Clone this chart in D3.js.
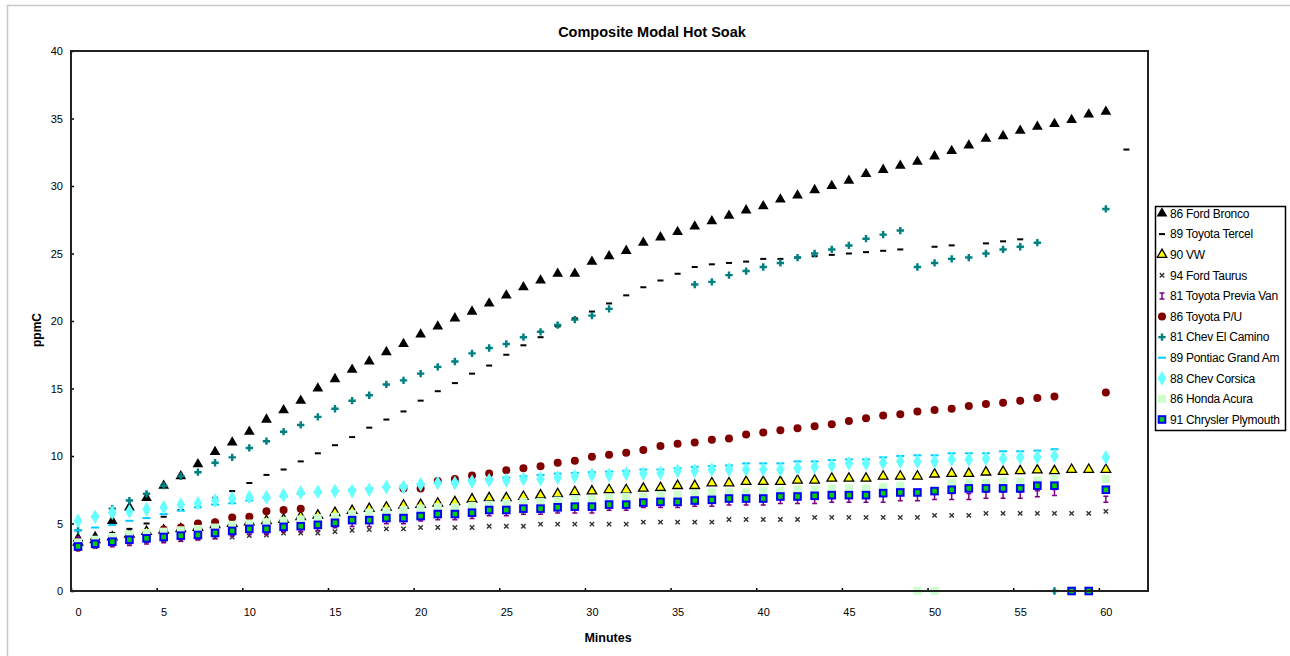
<!DOCTYPE html>
<html>
<head>
<meta charset="utf-8">
<script src="https://cdn.jsdelivr.net/npm/d3@7"></script>
<style>
  body { margin: 0; background: #fff; }
  svg { display: block; font-family: "Liberation Sans", Arial, sans-serif; }
</style>
</head>
<body>
<svg id="chart" width="1290" height="656"></svg>
<script>
// values, one per minute (null = no point drawn)
const _ = null;
const minutes = d3.range(0, 61);
const xTicks = d3.range(0, 61, 5);
const yTicks = d3.range(0, 41, 5);

const bronco = [
  3.9, 4.0, 5.2, 6.2, 6.9, 7.8, 8.5, 9.4, 10.3, 11.0,
  11.8, 12.7, 13.4, 14.1, 15.0, 15.7, 16.4, 17.0, 17.7, 18.3,
  19.0, 19.6, 20.2, 20.7, 21.3, 21.9, 22.5, 23.0, 23.5, 23.5,
  24.4, 24.8, 25.2, 25.8, 26.2, 26.6, 27.0, 27.4, 27.8, 28.2,
  28.5, 29.0, 29.3, 29.7, 30.0, 30.4, 30.9, 31.2, 31.5, 31.8,
  32.2, 32.6, 33.0, 33.5, 33.7, 34.1, 34.4, 34.6, 34.9, 35.3, 35.5];
const tercel = [
  3.6, 3.9, 4.3, 4.6, 5.0, 5.5, 6.0, 6.4, 6.9, 7.4,
  8.0, 8.6, 9.0, 9.6, 10.2, 10.8, 11.4, 12.1, 12.7, 13.3,
  14.1, 14.8, 15.4, 16.1, 16.7, 17.5, 18.2, 18.8, 19.6, 20.2,
  20.7, 21.3, 21.9, 22.5, 23.0, 23.5, 24.0, 24.2, 24.3, 24.4,
  24.6, 24.6, 24.7, 24.8, 24.9, 25.0, 25.1, 25.2, 25.3, _,
  25.5, 25.6, _, 25.75, 25.9, 26.05, _, _, _, _, _];
const tercelLate = [[61.2, 32.7]];
const vw = [
  3.6, 3.8, 4.0, 4.2, 4.4, 4.5, 4.6, 4.7, 4.9, 5.0,
  5.1, 5.2, 5.3, 5.5, 5.6, 5.8, 5.95, 6.1, 6.2, 6.35,
  6.4, 6.5, 6.6, 6.8, 6.9, 6.9, 7.0, 7.1, 7.2, 7.35,
  7.4, 7.5, 7.5, 7.6, 7.65, 7.8, 7.8, 8.0, 8.0, 8.1,
  8.1, 8.1, 8.2, 8.2, 8.35, 8.35, 8.35, 8.5, 8.5, 8.5,
  8.65, 8.7, 8.7, 8.8, 8.85, 8.9, 8.95, 8.9, 9.0, 9.0, 9.0];
const taurus = [
  3.3, 3.3, 3.5, 3.6, 3.7, 3.8, 3.8, 3.9, 4.0, 4.0,
  4.1, 4.15, 4.3, 4.3, 4.3, 4.4, 4.5, 4.55, 4.6, 4.6,
  4.7, 4.7, 4.7, 4.7, 4.8, 4.8, 4.8, 4.95, 4.95, 4.95,
  4.95, 4.95, 4.95, 5.1, 5.1, 5.1, 5.1, 5.1, 5.3, 5.3,
  5.3, 5.3, 5.3, 5.45, 5.45, 5.45, 5.45, 5.45, 5.45, 5.45,
  5.6, 5.6, 5.6, 5.75, 5.75, 5.75, 5.75, 5.75, 5.75, 5.75, 5.9];
const previa = [
  3.8, 3.4, 3.5, 3.6, 3.7, 3.8, 3.9, 4.0, 4.1, 4.3,
  4.4, 4.4, 4.6, 4.6, 4.7, 4.9, 5.0, 5.0, 5.2, 5.2,
  5.4, 5.5, 5.5, 5.6, 5.8, 5.8, 5.9, 5.9, 6.0, 6.0,
  6.0, 6.2, 6.2, 6.4, 6.4, 6.4, 6.5, 6.5, 6.6, 6.6,
  6.6, 6.7, 6.7, 6.7, 6.8, 6.8, 6.8, 6.8, 6.9, 6.9,
  7.0, 7.0, 7.0, 7.1, 7.1, 7.1, 7.2, 7.3, _, _, 6.8];
const pickup = [
  3.2, 3.6, 4.0, 4.15, 4.2, 4.55, 4.7, 5.0, 5.1, 5.45,
  5.5, 5.9, 6.0, 6.1, _, _, _, _, _, 7.6,
  7.6, 8.15, 8.3, 8.55, 8.7, 8.95, 9.1, 9.25, 9.5, 9.65,
  9.95, 10.1, 10.25, 10.45, 10.75, 10.9, 11.0, 11.2, 11.3, 11.6,
  11.75, 11.9, 12.05, 12.2, 12.35, 12.6, 12.8, 13.0, 13.1, 13.3,
  13.4, 13.5, 13.7, 13.85, 13.95, 14.1, 14.3, 14.4, _, _, 14.7];
const elCamino = [
  4.5, 5.5, 6.1, 6.7, 7.2, 7.8, 8.5, 8.8, 9.5, 9.9,
  10.6, 11.1, 11.8, 12.3, 12.9, 13.5, 14.1, 14.5, 15.3, 15.6,
  16.1, 16.6, 17.0, 17.6, 18.0, 18.3, 18.8, 19.2, 19.7, 20.1,
  20.4, 20.9, _, _, _, _, 22.7, 22.9, 23.4, 23.7,
  24.0, 24.3, 24.7, 25.0, 25.3, 25.6, 26.1, 26.4, 26.7, 24.0,
  24.3, 24.6, 24.7, 25.0, 25.3, 25.5, 25.8, 0, _, _, 28.3];
const grandAm = [
  4.5, 4.7, 4.9, 5.2, 5.4, 5.7, 5.95, 6.2, 6.4, 6.5,
  6.7, 6.9, 7.0, 7.2, 7.3, 7.4, 7.5, 7.6, 7.7, 7.8,
  7.9, 8.0, 8.1, 8.2, 8.3, 8.4, 8.5, 8.6, 8.7, 8.75,
  8.8, 8.85, 8.9, 9.0, 9.0, 9.1, 9.2, 9.25, 9.3, 9.45,
  9.45, 9.45, 9.6, 9.6, 9.7, 9.75, 9.75, 9.9, 10.0, 10.05,
  10.05, 10.2, 10.2, 10.2, 10.35, 10.35, 10.4, 10.5, _, _, _];
const corsica = [
  5.2, 5.5, 5.8, 5.9, 6.05, 6.2, 6.4, 6.5, 6.7, 6.85,
  6.95, 6.95, 7.1, 7.3, 7.35, 7.4, 7.4, 7.5, 7.7, 7.7,
  7.9, 8.0, 8.0, 8.1, 8.2, 8.2, 8.3, 8.3, 8.4, 8.5,
  8.6, 8.6, 8.7, 8.7, 8.75, 8.9, 8.9, 9.0, 9.0, 9.0,
  9.0, 9.0, 9.1, 9.2, 9.3, 9.45, 9.45, 9.5, 9.6, 9.6,
  9.6, 9.75, 9.75, 9.8, 9.8, 9.9, 9.9, 10.0, _, _, 9.9];
const acura = [
  3.6, 3.8, 4.0, 4.2, 4.3, 4.4, 4.5, 4.6, 4.7, 4.9,
  5.0, 5.1, 5.2, 5.3, 5.4, 5.5, 5.7, 5.8, 5.9, 6.0,
  6.1, 6.2, 6.2, 6.3, 6.4, 6.5, 6.6, 6.6, 6.7, 6.8,
  6.8, 6.9, 7.0, 7.0, 7.1, 7.1, 7.2, 7.3, 7.3, 7.3,
  7.4, 7.4, 7.5, 7.5, 7.6, 7.6, 7.6, 7.7, 7.8, 0,
  0, 8.0, 8.0, 8.0, 8.1, 8.1, 8.2, 8.3, _, _, 8.3];
const plymouth = [
  3.3, 3.5, 3.65, 3.8, 3.9, 4.0, 4.1, 4.15, 4.3, 4.45,
  4.6, 4.6, 4.75, 4.8, 4.9, 5.05, 5.25, 5.25, 5.4, 5.4,
  5.55, 5.7, 5.7, 5.8, 6.0, 6.0, 6.1, 6.1, 6.2, 6.25,
  6.25, 6.4, 6.4, 6.55, 6.6, 6.6, 6.7, 6.75, 6.85, 6.85,
  6.85, 7.0, 7.0, 7.05, 7.1, 7.1, 7.1, 7.25, 7.3, 7.3,
  7.4, 7.5, 7.6, 7.6, 7.6, 7.6, 7.8, 7.8, 0, 0, 7.5];

const seriesNames = ["86 Ford Bronco", "89 Toyota Tercel", "90 VW", "94 Ford Taurus",
  "81 Toyota Previa Van", "86 Toyota P/U", "81 Chev El Camino", "89 Pontiac Grand Am",
  "88 Chev Corsica", "86 Honda Acura", "91 Chrysler Plymouth"];
const seriesValues = [bronco, tercel, vw, taurus, previa, pickup, elCamino, grandAm,
  corsica, acura, plymouth];
const markerKinds = ["triangle", "dash", "triangleY", "times", "ibeam", "circle",
  "plus", "dashCyan", "diamond", "squareGreen", "squareBlue"];

const svg = d3.select("#chart");
const plot = { left: 71, top: 51, right: 1148, bottom: 591 };

const x = d3.scaleLinear().domain([-0.41, 62.46]).range([plot.left, plot.right]);
const y = d3.scaleLinear().domain([0, 40]).range([plot.bottom, plot.top]);

// outer chart frame
svg.append("rect")
  .attr("x", 7.5).attr("y", 5.5).attr("width", 1290).attr("height", 660)
  .attr("fill", "none").attr("stroke", "#c8c8c8").attr("stroke-width", 1.5);

svg.append("text")
  .attr("x", 652).attr("y", 37)
  .attr("text-anchor", "middle")
  .attr("font-size", 14.5).attr("font-weight", "bold")
  .text("Composite Modal Hot Soak");

// axes (ticks point inward, as in the reference)
const yAxis = svg.append("g")
  .attr("transform", `translate(${plot.left},0)`)
  .call(d3.axisLeft(y).tickValues(yTicks).tickSize(-3).tickPadding(8));
const xAxis = svg.append("g")
  .attr("transform", `translate(0,${plot.bottom})`)
  .call(d3.axisBottom(x).tickValues(xTicks).tickSize(-3).tickPadding(17));
// tick marks sit a little left of their labels in the original
xAxis.selectAll(".tick line").attr("transform", "translate(-7,0)");
[xAxis, yAxis].forEach(a => {
  a.select(".domain").remove();
  a.selectAll(".tick line").attr("stroke", "#000").attr("stroke-width", 1.5);
  a.selectAll("text").attr("font-size", 11).attr("fill", "#000")
    .attr("font-family", "Liberation Sans, Arial, sans-serif");
});

svg.append("text")
  .attr("x", 608).attr("y", 642)
  .attr("text-anchor", "middle")
  .attr("font-size", 12.5).attr("font-weight", "bold")
  .text("Minutes");
svg.append("text")
  .attr("transform", "translate(41,330) rotate(-90)")
  .attr("text-anchor", "middle")
  .attr("font-size", 12).attr("font-weight", "bold")
  .text("ppmC");

// draw one marker of a given kind into g, centred at 0,0
function drawMarker(g, kind) {
  switch (kind) {
    case "triangle":
      g.append("path").attr("d", d3.symbol(d3.symbolTriangle, 50)()).attr("fill", "#000");
      break;
    case "dash":
      g.append("rect").attr("x", -3).attr("y", -1).attr("width", 6).attr("height", 2).attr("fill", "#000");
      break;
    case "triangleY":
      g.append("path").attr("d", d3.symbol(d3.symbolTriangle, 40)())
        .attr("fill", "#ffff00").attr("stroke", "#000").attr("stroke-width", 1.3);
      break;
    case "times":
      g.append("path").attr("d", "M-2.2,-2.2L2.2,2.2M-2.2,2.2L2.2,-2.2")
        .attr("stroke", "#333").attr("stroke-width", 1.4).attr("fill", "none");
      break;
    case "ibeam":
      g.append("path").attr("d", "M-2.5,-3H2.5M-2.5,3H2.5M0,-3V3")
        .attr("stroke", "#800080").attr("stroke-width", 1.5).attr("fill", "none");
      break;
    case "circle":
      g.append("circle").attr("r", 4).attr("fill", "#800000");
      break;
    case "plus":
      g.append("path").attr("d", d3.symbol(d3.symbolCross, 30)()).attr("fill", "#008080");
      break;
    case "dashCyan":
      g.append("rect").attr("x", -4).attr("y", -1).attr("width", 8).attr("height", 2).attr("fill", "#00ccff");
      break;
    case "diamond":
      g.append("path").attr("d", d3.symbol(d3.symbolDiamond, 62)()).attr("fill", "#66ffff");
      break;
    case "squareGreen":
      g.append("rect").attr("x", -4).attr("y", -4).attr("width", 8).attr("height", 8).attr("fill", "#ccffcc");
      break;
    case "squareBlue":
      g.append("rect").attr("x", -3.3).attr("y", -3.3).attr("width", 6.6).attr("height", 6.6)
        .attr("fill", "#00d000").attr("stroke", "#0000ff").attr("stroke-width", 2);
      break;
  }
}

const marks = svg.append("g");
seriesValues.forEach((vals, i) => {
  let pts = minutes.map((m, j) => [m, vals[j]]).filter(p => p[1] !== null);
  if (vals === tercel) pts = pts.concat(tercelLate);
  marks.append("g")
    .selectAll("g")
    .data(pts)
    .join("g")
    .attr("transform", d => `translate(${x(d[0])},${y(d[1])})`)
    .each(function () { drawMarker(d3.select(this), markerKinds[i]); });
});

// plot frame
svg.append("rect")
  .attr("x", plot.left).attr("y", plot.top)
  .attr("width", plot.right - plot.left).attr("height", plot.bottom - plot.top)
  .attr("fill", "none").attr("stroke", "#222").attr("stroke-width", 2);

// legend
const legend = svg.append("g");
legend.append("rect")
  .attr("x", 1155.5).attr("y", 206.5).attr("width", 130).attr("height", 224)
  .attr("fill", "#fff").attr("stroke", "#000").attr("stroke-width", 1.5);
seriesNames.forEach((name, i) => {
  const row = legend.append("g").attr("transform", `translate(1162,${213.5 + i * 20.6})`);
  drawMarker(row, markerKinds[i]);
  row.append("text")
    .attr("x", 8).attr("dy", "0.35em")
    .attr("font-size", 12).attr("letter-spacing", -0.25)
    .text(name);
});
</script>
</body>
</html>
